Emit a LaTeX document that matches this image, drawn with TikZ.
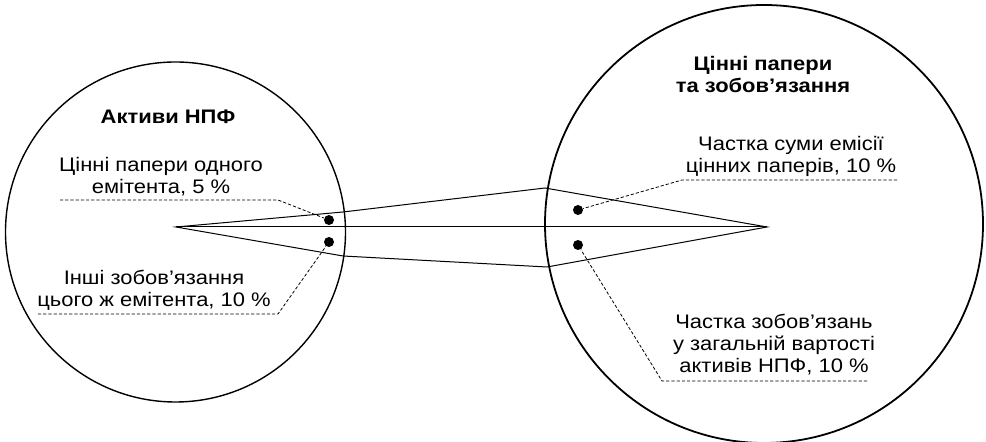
\documentclass[tikz,border=0pt]{standalone}
\usepackage{fontspec}
\setmainfont[FakeStretch=1.12]{Liberation Sans}
\begin{document}
\begin{tikzpicture}[x=0.5pt, y=-0.5pt,
    every node/.style={font=\fontsize{9.8}{11}\selectfont, align=center, inner sep=0pt},
    title/.style={font=\fontsize{9.8}{11}\selectfont\bfseries},
    dot/.style={circle, fill=black, minimum size=5pt},
    leader/.style={line width=0.4pt, dash pattern=on 1.6pt off 1pt}]
  \useasboundingbox (0,0) rectangle (986,442);
  % two circles
  \draw[line width=0.7pt] (175.5,232) circle (170);
  \draw[line width=0.9pt] (764,224) circle (219);
  % wedge between them
  \coordinate (apexL) at (176,227);
  \coordinate (kinkA) at (343,212);
  \coordinate (kinkB) at (343,256);
  \coordinate (kinkC) at (545,188);
  \coordinate (kinkD) at (547,267);
  \coordinate (apexR) at (767,227);
  \draw[line width=0.5pt] (apexL) -- (kinkA) -- (kinkC) -- (apexR) -- (kinkD) -- (kinkB) -- cycle;
  \draw[line width=0.5pt] (apexL) -- (apexR);
  % dots
  \node[dot] (d1) at (329,220) {};
  \node[dot] (d2) at (329,242) {};
  \node[dot] (d3) at (578,210) {};
  \node[dot] (d4) at (578,245) {};
  % texts (base = last line)
  \node[title, anchor=base] (assets) at (168,124) {Активи НПФ};
  \node[title, anchor=base] (papers) at (763,93) {Цінні папери\\та зобов’язання};
  \node[anchor=base] (one) at (161,194) {Цінні папери одного\\емітента, 5 \%};
  \node[anchor=base] (other) at (154,307) {Інші зобов’язання\\цього ж емітента, 10 \%};
  \node[anchor=base] (issue) at (791,173) {Частка суми емісії\\цінних паперів, 10 \%};
  \node[anchor=base] (share) at (774,373) {Частка зобов’язань\\у загальній вартості\\активів НПФ, 10 \%};
  % leaders
  \coordinate (u1a) at (60,200);  \coordinate (u1b) at (278,200);
  \coordinate (u2a) at (38,314);  \coordinate (u2b) at (278,314);
  \coordinate (u3a) at (897,180); \coordinate (u3b) at (682,180);
  \coordinate (u4a) at (867,381); \coordinate (u4b) at (662,381);
  \draw[leader] (u1a) -- (u1b) -- (d1);
  \draw[leader] (u2a) -- (u2b) -- (d2);
  \draw[leader] (u3a) -- (u3b) -- (d3);
  \draw[leader] (u4a) -- (u4b) -- (d4);
\end{tikzpicture}
\end{document}
